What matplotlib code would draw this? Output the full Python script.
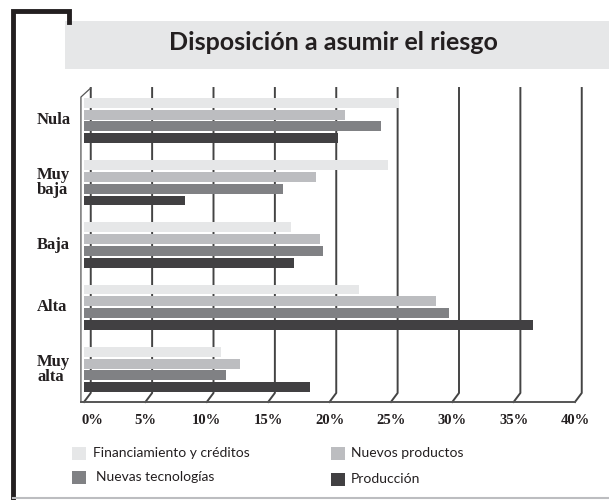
import numpy as np
import matplotlib.pyplot as plt
from matplotlib.patches import Rectangle
from matplotlib.lines import Line2D
import matplotlib.transforms as mtransforms

# data (percent)
categories = ['Nula', 'Muy\nbaja', 'Baja', 'Alta', 'Muy\nalta']
series = ['Financiamiento y créditos', 'Nuevos productos',
          'Nuevas tecnologías', 'Producción']
financiamiento = [25.7, 24.8, 16.9, 22.4, 11.2]
nuevos_productos = [21.3, 18.9, 19.2, 28.7, 12.7]
nuevas_tecnologias = [24.2, 16.2, 19.5, 29.7, 11.6]
produccion = [20.7, 8.2, 17.1, 36.6, 18.4]
ticks = [0, 5, 10, 15, 20, 25, 30, 35, 40]
tick_labels = ['0%', '5%', '10%', '15%', '20%', '25%', '30%', '35%', '40%']

colors = ['#e6e7e8', '#bcbdc0', '#808184', '#414042']
values = [financiamiento, nuevos_productos, nuevas_tecnologias, produccion]

W, H = 609, 500
fig = plt.figure(figsize=(W / 100, H / 100), dpi=100)

# frame: black corner, gray bottom line, title banner
fig.add_artist(Line2D([13 / W, 13 / W, 68.5 / W, 68.5 / W],
                      [0, 1 - 11 / H, 1 - 11 / H, 1 - 22 / H],
                      transform=fig.transFigure, color='#231f20', lw=3.5,
                      solid_joinstyle='miter'))
fig.add_artist(Line2D([13 / W, 1], [2 / H, 2 / H], transform=fig.transFigure,
                      color='#bcbdc0', lw=1.5))
fig.add_artist(Rectangle((65 / W, 1 - 69 / H), 1 - 65 / W, 48 / H,
                         transform=fig.transFigure, facecolor='#e6e7e8',
                         edgecolor='none'))
fig.text(333 / W, 1 - 43 / H, 'Disposición a asumir el riesgo',
         ha='center', va='center', fontsize=18, fontweight='bold',
         family='Lato', color='#231f20')

# main plot area (front plane 0% at x=84px, 40% at ~575px)
ax = fig.add_axes([84 / W, 98 / H, 491 / W, 314 / H])
ytop, ybot = -0.522, 4.522
ax.set_xlim(0, 40)
ax.set_ylim(ybot, ytop)
ax.axis('off')

depth_x, depth_y = 0.55, 0.145
for t in ticks:
    ax.plot([t, t + depth_x, t + depth_x], [ybot, ybot - depth_y, ytop],
            color='#444444', lw=1.4, clip_on=False, zorder=1)
ax.plot([-0.25, -0.25, depth_x], [ybot, ytop + depth_y, ytop],
        color='#555555', lw=0.9, clip_on=False, zorder=1)
ax.plot([-0.25, 40], [ybot, ybot], color='#555555', lw=1.4,
        clip_on=False, zorder=1)

y = np.arange(len(categories))
step, bh = 0.19, 0.16
for j, (vals, c) in enumerate(zip(values, colors)):
    ax.barh(y + (j - 1.5) * step, vals, height=bh, color=c,
            edgecolor='none', zorder=3, label=series[j])

# x tick labels
for t, lab in zip(ticks, tick_labels):
    ax.annotate(lab, (t + (0.7 if t == 0 else 0), ybot), xytext=(0, -13),
                textcoords='offset points', ha='center', va='center',
                fontsize=10.5, fontweight='bold', family='Liberation Serif',
                color='#231f20', annotation_clip=False)

# category labels
trans = mtransforms.blended_transform_factory(fig.transFigure, ax.transData)
for yi, cat in zip(y, categories):
    ax.text(37 / W, yi, cat, transform=trans, ha='left', va='center',
            fontsize=12, fontweight='bold', family='Liberation Serif',
            linespacing=0.95, color='#231f20')

# legend
leg_pos = [(72, 453), (331, 453), (72, 477), (331, 479)]
text_dx = [21, 20, 24, 20]
for j, ((lx, ly), dx) in enumerate(zip(leg_pos, text_dx)):
    fig.add_artist(Rectangle((lx / W, 1 - (ly + 6.5) / H), 14 / W, 13 / H,
                             transform=fig.transFigure, facecolor=colors[j],
                             edgecolor='none'))
    fig.text((lx + dx) / W, 1 - ly / H, series[j], ha='left', va='center',
             fontsize=10, family='Lato', color='#231f20')

fig.savefig('out.png', dpi=100)
